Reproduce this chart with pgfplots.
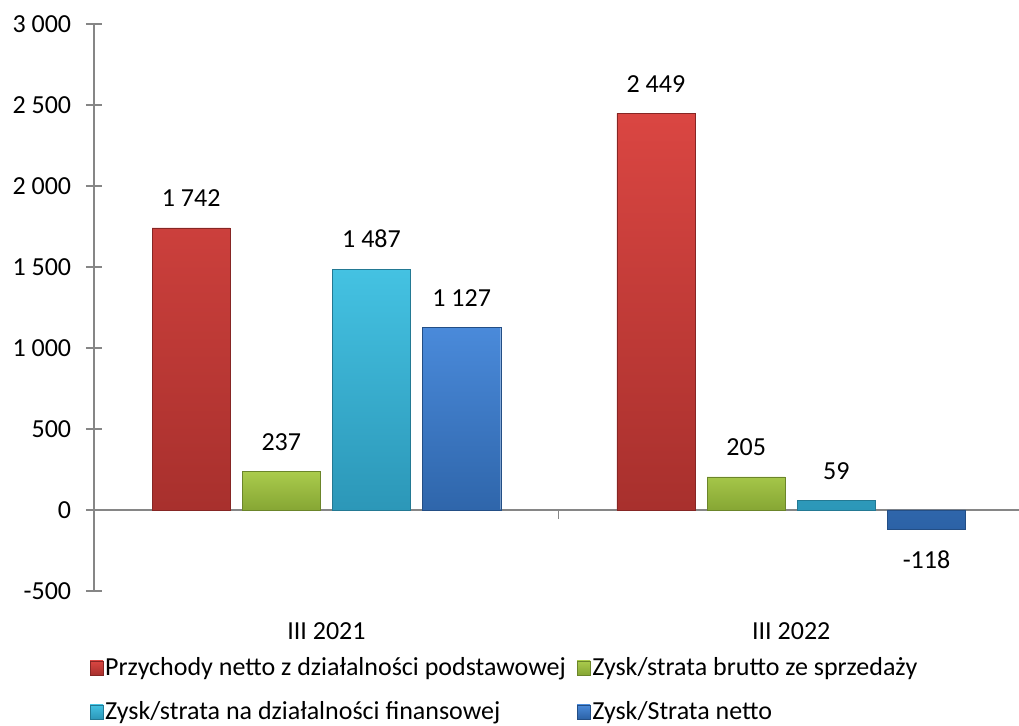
\documentclass[border=0pt]{standalone}
\usepackage{pgfplots}
\pgfplotsset{compat=1.18}
\usepackage{fontspec}
\setmainfont{Carlito}
\definecolor{redT}{HTML}{DA4642}
\definecolor{redB}{HTML}{A8302D}
\definecolor{grnT}{HTML}{AACB4C}
\definecolor{grnB}{HTML}{86A634}
\definecolor{cyaT}{HTML}{44C2E2}
\definecolor{cyaB}{HTML}{2C97B8}
\definecolor{bluT}{HTML}{4A8ADA}
\definecolor{bluB}{HTML}{2C62A6}
\definecolor{axgray}{HTML}{868686}
\begin{document}
\fontsize{26}{31}\selectfont
\begin{tikzpicture}
\useasboundingbox (0,0) rectangle (1019pt,725pt);
\begin{axis}[
  at={(94pt,134pt)}, anchor=south west,
  scale only axis, width=925pt, height=567pt,
  xmin=-0.5, xmax=1.49, ymin=-500, ymax=3000,
  ytick={-500,0,500,1000,1500,2000,2500,3000},
  xtick={0,1}, xticklabels={III 2021, III 2022},
  axis x line*=bottom, axis y line*=left,
  x axis line style={draw=none},
  y axis line style={axgray, line width=1.2pt, -},
  x tick style={draw=none},
  y tick style={axgray, line width=1.2pt},
  tick align=center, major tick length=16pt,
  yticklabel style={xshift=-6pt},
  xticklabel style={yshift=-7pt},
  /pgf/number format/.cd, 1000 sep={\ }, assume math mode=true, /pgfplots/.cd,
  ybar,
  bar width=0.168,
  nodes near coords,
  nodes near coords align=vertical,
  every node near coord/.append style={inner ysep=21pt, text=black, font=\fontsize{26}{31}\selectfont},
  legend columns=2,
  legend cell align=left,
  legend style={draw=none, fill=none, at={(axis description cs:-0.008,-0.109)}, anchor=north west,
    row sep=18pt, font=\fontsize{26}{31}\selectfont,
    /tikz/every even column/.append style={column sep=9pt}},
  legend image code/.code={\fill[#1] (0pt,-7pt) rectangle (13pt,7pt);},
]
\draw[axgray, line width=1.2pt] (axis cs:-0.5,0) -- (axis cs:1.49,0);
\draw[axgray, line width=1.2pt] (axis cs:0.5,0) -- ++(0pt,-9pt);
\addplot[bar shift=-0.291, draw=redB!80!black, top color=redT, bottom color=redB] coordinates {(0,1742) (1,2449)};
\addlegendentry{Przychody netto z działalności podstawowej}
\addplot[bar shift=-0.097, draw=grnB!80!black, top color=grnT, bottom color=grnB] coordinates {(0,237) (1,205)};
\addlegendentry{Zysk/strata brutto ze sprzedaży}
\addplot[bar shift=0.097, draw=cyaB!80!black, top color=cyaT, bottom color=cyaB] coordinates {(0,1487) (1,59)};
\addlegendentry{Zysk/strata na działalności finansowej}
\addplot[bar shift=0.291, draw=bluB!80!black, top color=bluT, bottom color=bluB] coordinates {(0,1127) (1,-118)};
\addlegendentry{Zysk/Strata netto}
\end{axis}
\end{tikzpicture}
\end{document}
